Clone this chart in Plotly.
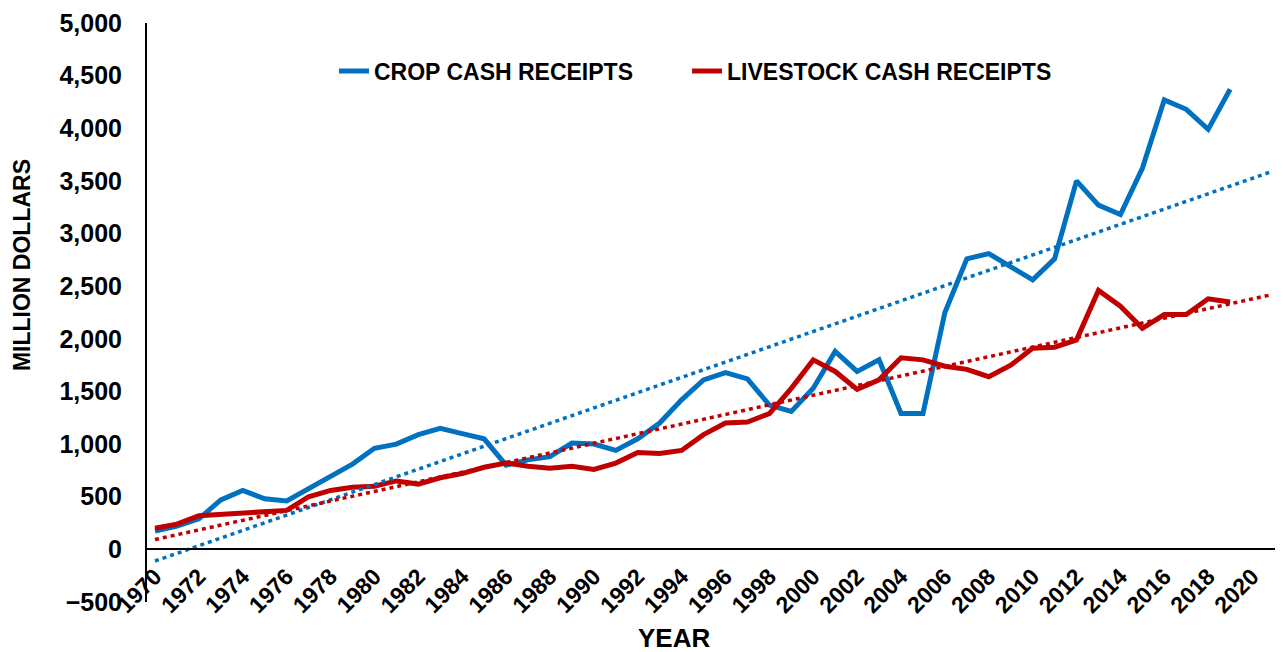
import numpy as np
import plotly.graph_objects as go

years = list(range(1970, 2020))
crop = [175, 220, 290, 470, 560, 480, 460, 580, 690, 810,
        960, 1000, 1090, 1150, 1100, 1050, 800, 850, 880, 1010,
        1000, 940, 1050, 1200, 1420, 1610, 1680, 1620, 1370, 1310,
        1530, 1880, 1690, 1800, 1290, 1290, 2250, 2760, 2810, 2680,
        2560, 2760, 3500, 3270, 3180, 3620, 4270, 4180, 3990, 4370]
livestock = [200, 240, 320, 330, 340, 350, 370, 500, 560, 590,
             600, 650, 620, 680, 720, 780, 820, 790, 770, 790,
             760, 820, 920, 910, 940, 1090, 1200, 1210, 1290, 1530,
             1800, 1690, 1520, 1610, 1820, 1800, 1740, 1710, 1640, 1750,
             1910, 1920, 1990, 2460, 2310, 2100, 2230, 2230, 2380, 2350]
tick_years = list(range(1970, 2021, 2))
trend_span = [1970, 2020.8]

BLUE = "#0070C0"
RED = "#C00000"
FONT = "Liberation Sans, Arial, sans-serif"

def trend(vals):
    k, b = np.polyfit(years, vals, 1)
    return [k * x + b for x in trend_span]

fig = go.Figure()
fig.add_trace(go.Scatter(x=years, y=crop, mode="lines", name="CROP CASH RECEIPTS",
                         line=dict(color=BLUE, width=5), legend="legend"))
fig.add_trace(go.Scatter(x=years, y=livestock, mode="lines", name="LIVESTOCK CASH RECEIPTS",
                         line=dict(color=RED, width=5), legend="legend2"))
fig.add_trace(go.Scatter(x=trend_span, y=trend(crop), mode="lines", showlegend=False,
                         line=dict(color=BLUE, width=3.5, dash="4px,4px")))
fig.add_trace(go.Scatter(x=trend_span, y=trend(livestock), mode="lines", showlegend=False,
                         line=dict(color=RED, width=3.5, dash="4px,4px")))

# page body has an 8px margin; the figure is laid out relative to it
W, H = 1275, 644
plot_left, plot_top, plot_bottom = 139, 15, 594
y0_px = 541
pos = (plot_bottom - y0_px) / (plot_bottom - plot_top)

legend_font = dict(family=FONT, size=23, color="black", weight="bold")

fig.update_layout(
    template="none",
    width=W, height=H,
    margin=dict(l=plot_left, r=0, t=plot_top, b=H - plot_bottom, autoexpand=False),
    paper_bgcolor="white", plot_bgcolor="white",
    font=dict(family=FONT, size=22, color="black", weight="bold"),
    showlegend=True,
    legend=dict(orientation="h", x=0.1646, y=0.917, xanchor="left", yanchor="middle",
                font=legend_font, bgcolor="rgba(0,0,0,0)"),
    legend2=dict(orientation="h", x=0.4754, y=0.917, xanchor="left", yanchor="middle",
                 font=legend_font, bgcolor="rgba(0,0,0,0)"),
    xaxis=dict(range=[1969.635, 2021.41], tickmode="array", tickvals=tick_years,
               ticktext=[str(y) for y in tick_years], tickangle=-45,
               anchor="free", position=pos, automargin=False,
               showline=True, linecolor="black", linewidth=2,
               showgrid=False, zeroline=False, ticks="", ticklabelstandoff=4,
               tickfont=dict(family=FONT, size=23, color="black", weight="bold")),
    yaxis=dict(range=[-500, 5000], dtick=500, tickformat=",", automargin=False,
               showline=True, linecolor="black", linewidth=2,
               showgrid=False, zeroline=False, ticks="", ticklabelstandoff=18,
               tickfont=dict(family=FONT, size=25, color="black", weight="bold")),
    annotations=[
        dict(text="MILLION DOLLARS", xref="paper", yref="paper", x=-0.110, y=0.582,
             xanchor="center", yanchor="middle", textangle=-90, showarrow=False,
             font=dict(family=FONT, size=23, color="black", weight="bold")),
        dict(text="YEAR", xref="paper", yref="paper", x=0.4639, y=-0.0622,
             xanchor="center", yanchor="middle", showarrow=False,
             font=dict(family=FONT, size=26, color="black", weight="bold")),
    ],
)

fig.write_html("out.html")
